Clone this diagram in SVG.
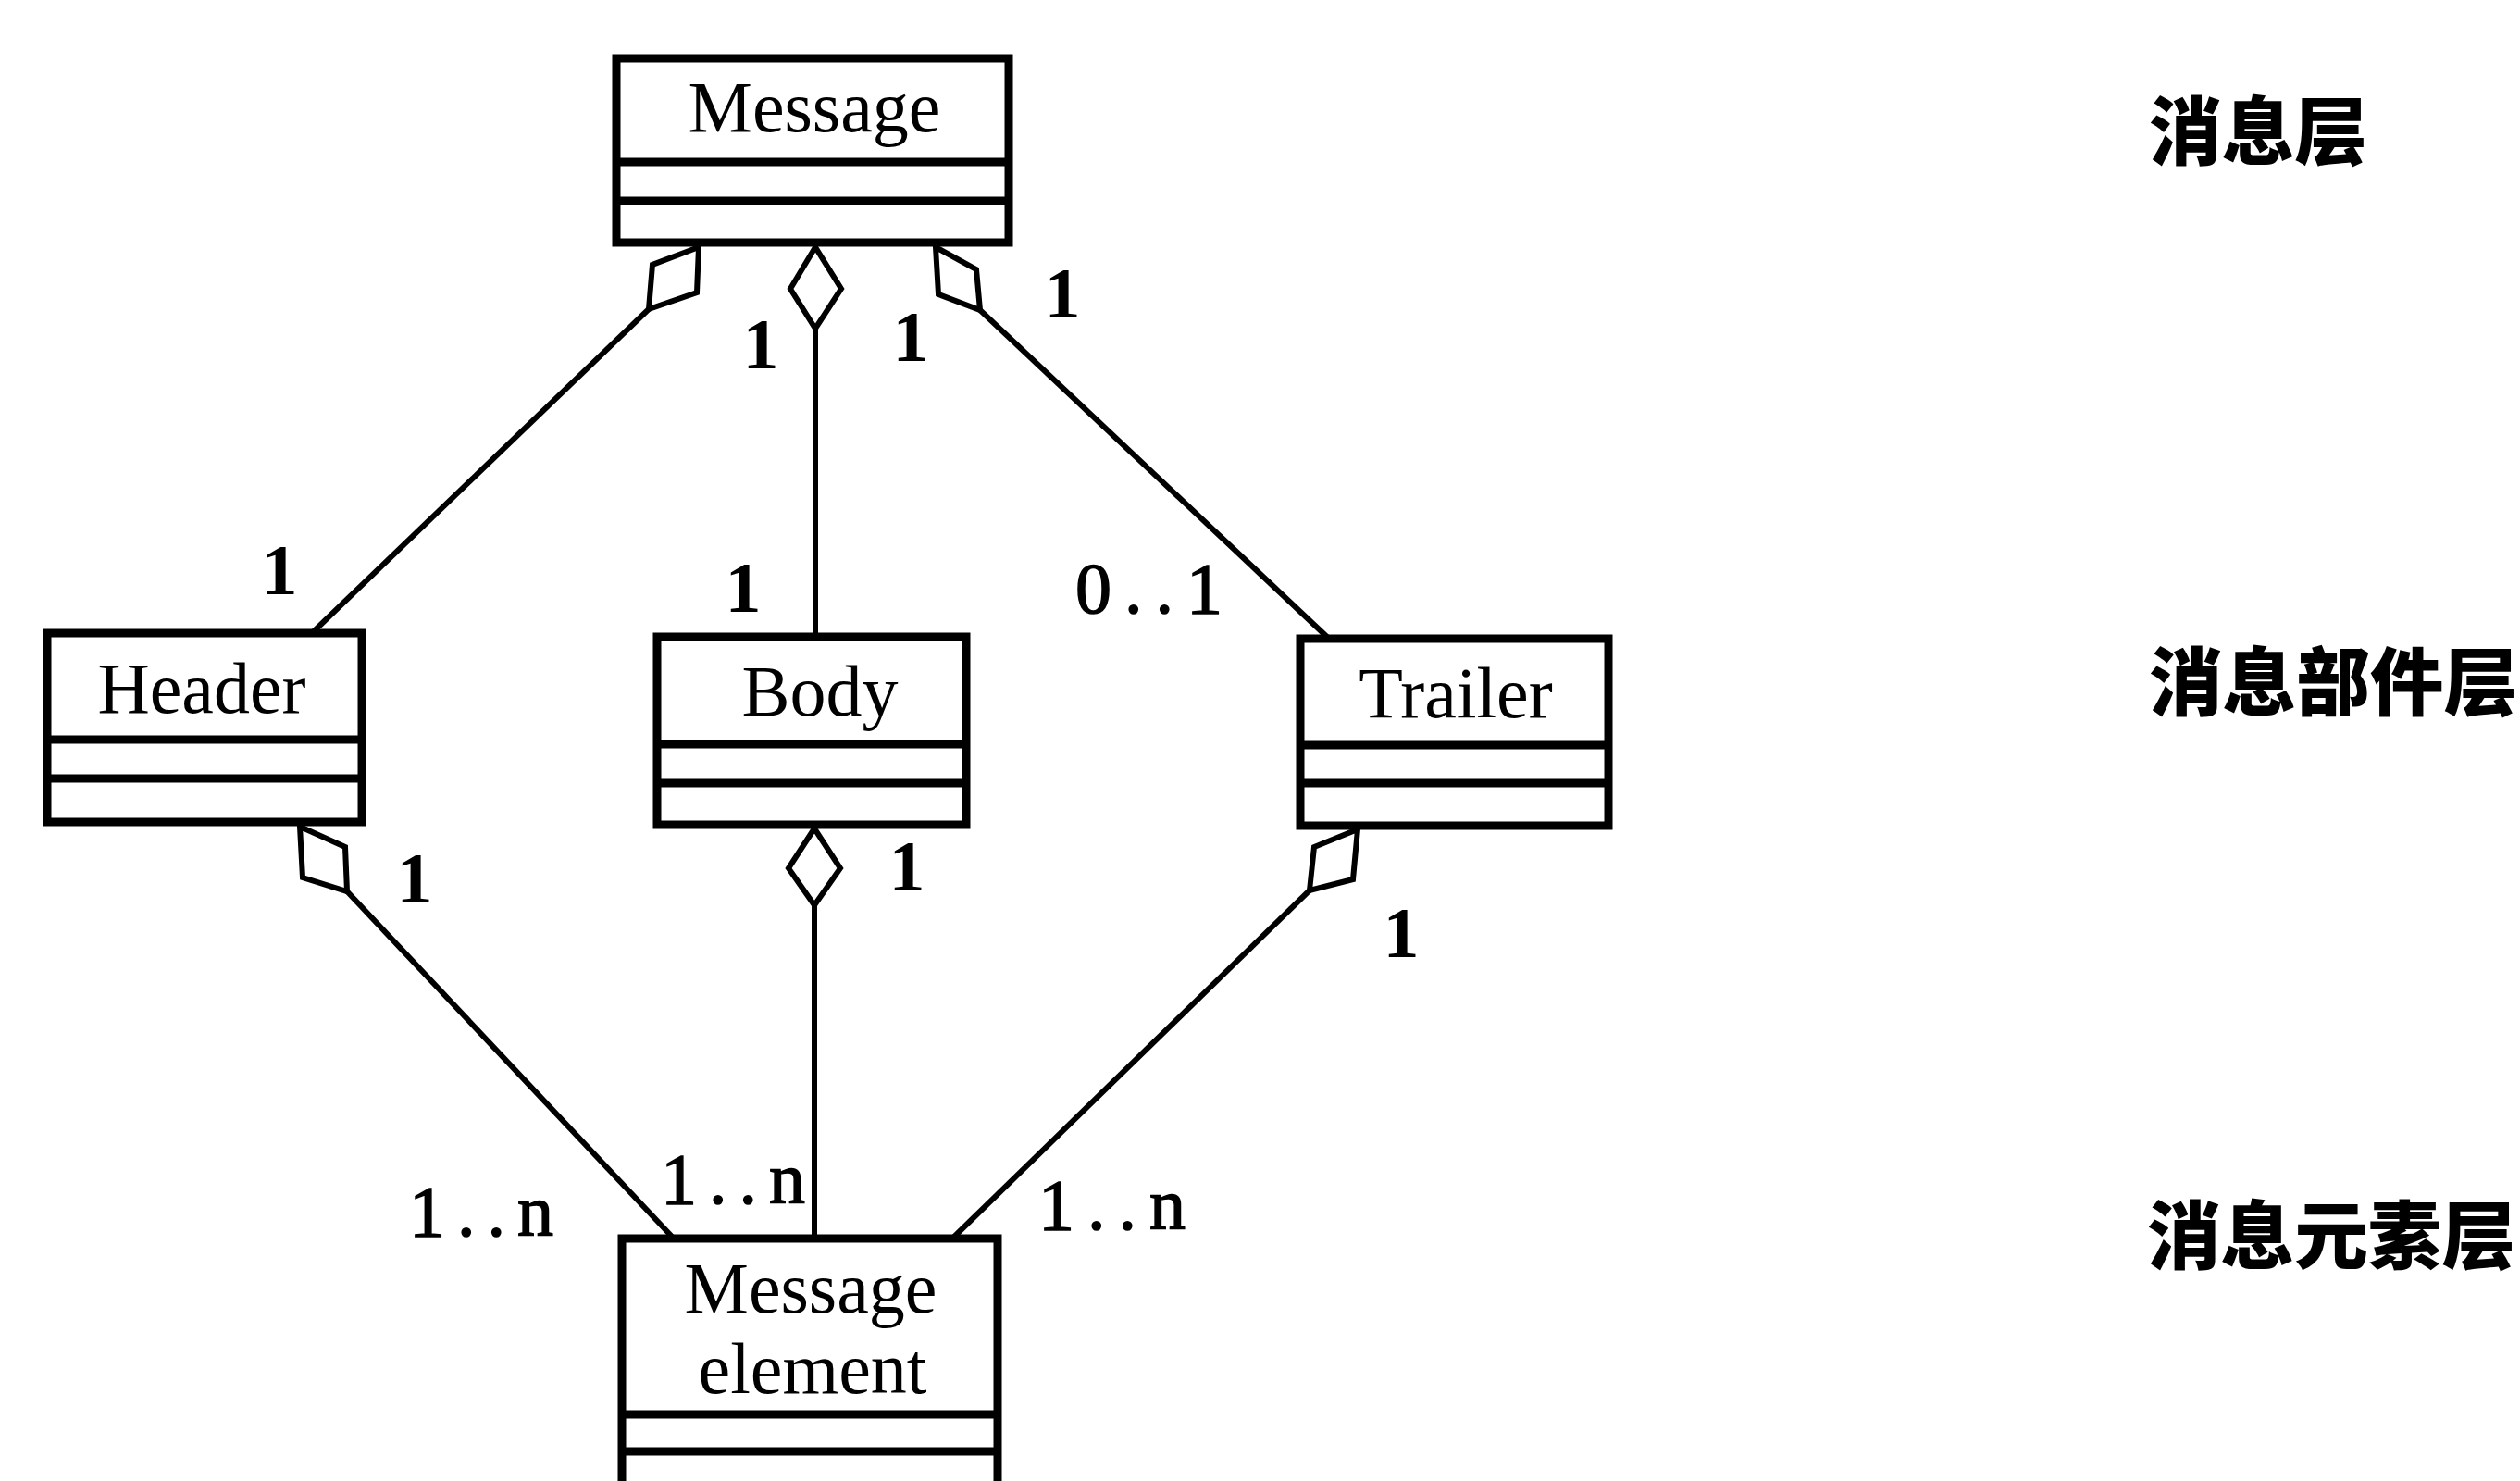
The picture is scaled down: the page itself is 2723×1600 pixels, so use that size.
<svg xmlns="http://www.w3.org/2000/svg" width="2723" height="1600" viewBox="0 0 2723 1600">
<style>
.box{fill:#fff;stroke:#000;stroke-width:9}
.div{stroke:#000;stroke-width:9}
.name{font-family:"Liberation Serif","Times New Roman",serif;font-size:78px;fill:#000;text-anchor:middle}
.mult{font-family:"Liberation Serif","Times New Roman",serif;font-size:78px;font-weight:bold;fill:#000}
.rng{font-weight:normal;stroke:#000;stroke-width:1.5}
.mid{text-anchor:middle}
.line{fill:none;stroke:#000;stroke-width:6}
.dia{fill:#fff;stroke:#000;stroke-width:6;stroke-linejoin:miter}
.layer{font-family:"Noto Sans CJK SC","Noto Sans CJK JP",sans-serif;font-size:80px;font-weight:900;fill:#000}
</style>
<rect width="2723" height="1600" fill="#fff"/>
<g id="connectors">
  <line class="line" x1="701" y1="334" x2="337" y2="684"/>
  <polygon class="dia" points="755,267 705,286 701,334 753,316"/>
  <line class="line" x1="881" y1="355" x2="881" y2="688"/>
  <polygon class="dia" points="881,267 854,312 881,355 909,312"/>
  <line class="line" x1="1059" y1="335" x2="1436" y2="690"/>
  <polygon class="dia" points="1011,267 1055,291 1059,335 1014,318"/>
  <line class="line" x1="375" y1="963" x2="728" y2="1338"/>
  <polygon class="dia" points="324,893 373,915 375,963 327,948"/>
  <line class="line" x1="880" y1="978" x2="880" y2="1338"/>
  <polygon class="dia" points="880,895 852,938 880,978 908,938"/>
  <line class="line" x1="1415" y1="962" x2="1029" y2="1338"/>
  <polygon class="dia" points="1467,896 1420,915 1415,962 1462,950"/>
</g>
<g id="labels">
  <text class="mult mid" x="302" y="642">1</text>
  <text class="mult mid" x="822" y="398">1</text>
  <text class="mult mid" x="984" y="390">1</text>
  <text class="mult mid" x="1148" y="343">1</text>
  <text class="mult mid" x="803" y="661">1</text>
  <text class="mult rng" x="1162" y="662" textLength="159" lengthAdjust="spacing">0..1</text>
  <text class="mult mid" x="448" y="975">1</text>
  <text class="mult mid" x="980" y="962">1</text>
  <text class="mult mid" x="1514" y="1034">1</text>
  <text class="mult rng" x="442" y="1335" textLength="156" lengthAdjust="spacing">1..n</text>
  <text class="mult rng" x="714" y="1300" textLength="156" lengthAdjust="spacing">1..n</text>
  <text class="mult rng" x="1122" y="1328" textLength="159" lengthAdjust="spacing">1..n</text>
</g>
<g id="node-message">
  <rect class="box" x="666" y="63" width="424" height="199"/>
  <line class="div" x1="666" y1="175" x2="1090" y2="175"/>
  <line class="div" x1="666" y1="217" x2="1090" y2="217"/>
  <text class="name" x="880" y="142">Message</text>
</g>
<g id="node-header">
  <rect class="box" x="51" y="684" width="340" height="204"/>
  <line class="div" x1="51" y1="799" x2="391" y2="799"/>
  <line class="div" x1="51" y1="841" x2="391" y2="841"/>
  <text class="name" x="218" y="770">Header</text>
</g>
<g id="node-body">
  <rect class="box" x="710" y="688" width="334" height="203"/>
  <line class="div" x1="710" y1="804" x2="1044" y2="804"/>
  <line class="div" x1="710" y1="846" x2="1044" y2="846"/>
  <text class="name" x="886" y="773">Body</text>
</g>
<g id="node-trailer">
  <rect class="box" x="1405" y="690" width="333" height="202"/>
  <line class="div" x1="1405" y1="805" x2="1738" y2="805"/>
  <line class="div" x1="1405" y1="846" x2="1738" y2="846"/>
  <text class="name" x="1573" y="775">Trailer</text>
</g>
<g id="node-message-element">
  <rect class="box" x="672" y="1338" width="406" height="300"/>
  <line class="div" x1="672" y1="1528" x2="1078" y2="1528"/>
  <line class="div" x1="672" y1="1568" x2="1078" y2="1568"/>
  <text class="name" x="876" y="1418">Message</text>
  <text class="name" x="878" y="1505">element</text>
</g>
<g id="layer-labels">
  <text class="layer" x="2322" y="171" textLength="236" lengthAdjust="spacingAndGlyphs">消息层</text>
  <text class="layer" x="2322" y="766" textLength="398" lengthAdjust="spacingAndGlyphs">消息部件层</text>
  <text class="layer" x="2320" y="1364" textLength="398" lengthAdjust="spacingAndGlyphs">消息元素层</text>
</g>
</svg>
